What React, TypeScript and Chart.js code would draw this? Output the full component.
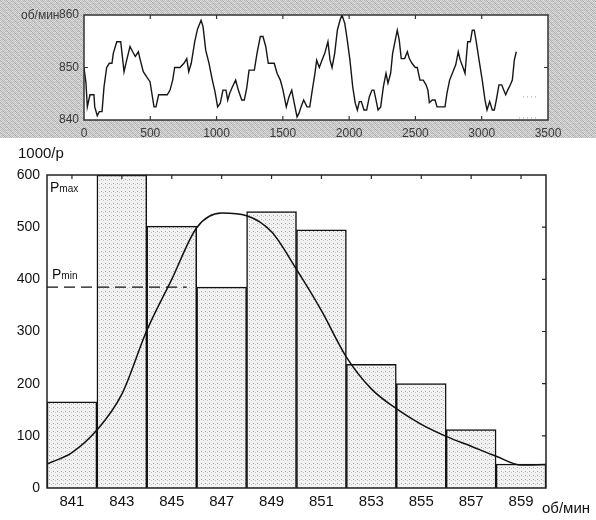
import React, { useEffect, useRef } from "react";
import { Chart, registerables } from "chart.js";
Chart.register(...registerables);

// ---------- top chart: rotation speed over time ----------
const timeS = [0,15,25,45,75,81,100,115,136,151,171,191,211,221,247,277,302,322,347,367,387,410,422,447,473,498,528,543,563,628,649,669,684,724,754,775,790,809,835,856,883,898,918,943,968,988,1008,1028,1048,1071,1084,1099,1119,1144,1164,1190,1209,1227,1245,1285,1305,1330,1350,1371,1390,1435,1456,1481,1501,1526,1546,1567,1586,1607,1622,1637,1657,1682,1703,1722,1742,1755,1775,1795,1816,1840,1856,1871,1891,1911,1931,1946,1967,1986,2006,2027,2046,2062,2077,2092,2112,2132,2152,2172,2187,2203,2218,2238,2258,2278,2293,2313,2328,2348,2363,2378,2393,2419,2439,2454,2474,2499,2514,2534,2559,2580,2594,2605,2627,2648,2663,2723,2738,2758,2783,2804,2823,2838,2859,2874,2894,2914,2929,2944,2959,2980,3004,3025,3040,3060,3080,3095,3110,3130,3151,3166,3181,3196,3216,3231,3246,3261];
const rpm = [850,847,842.5,844.8,844.8,842.5,840.8,841.6,841.6,846.3,850,850.8,850.8,852.7,854.9,854.9,849.2,851.4,854,853,852.1,853,851.7,849.2,848.2,847.3,842.5,842.5,844.8,844.8,845.7,847.6,850,850,850.8,851.7,849.2,850.8,854.9,857.3,859,857.8,853.3,850.8,847.6,845.4,842.5,843.2,845.7,845.7,843.8,845.1,846.3,847.6,845.7,843.8,843.8,846,849.5,849.5,852.7,855.9,855.9,854,850.8,850.8,848.9,847.6,845.7,842.5,844.4,845.7,843.2,840.6,841.3,842.5,843.8,842.5,842.5,845.7,848.9,851.4,850,851.4,852.7,854.9,851.4,850,852.7,857.1,859,860,858.4,855.2,851.4,846.3,843.2,841.9,843.5,843.5,841.9,841.9,844.4,845.7,845.7,843.8,841.9,842.5,846.3,848.9,847,848.9,852.7,855.2,857.1,855.2,851.7,851.7,853,851.7,850.8,850,850,847.6,847.6,846.7,845.7,843.3,843.8,843.8,842.5,842.5,845.1,847.6,849.2,850.5,853,851.4,850,848.9,854.9,854.9,857.1,857.1,854.9,851.4,847.6,843.8,841.9,843.5,841.9,841.9,843.8,846.7,846.7,845.7,844.8,845.7,846.7,847.6,851.4,853];
const topXTicks = [0, 500, 1000, 1500, 2000, 2500, 3000, 3500];
const topYTicks = [840, 850, 860];
const markUpperT = [3311, 3417];
const markUpperV = 844.4;
const markLowerT = [3281, 3417];
const markLowerV = 840.4;

// ---------- bottom chart: histogram ----------
const binCenters = [841, 843, 845, 847, 849, 851, 853, 855, 857, 859];
const freq = [165, 600, 502, 385, 530, 495, 237, 200, 112, 46];
const curveX = [840,841,842,843,844,845,846,847,848,849,850,851,852,853,854,855,856,857,858,859,860];
const curveY = [46,68,111,180,302,400,499,527,522,491,419,340,251,190,152,122,99,80,61,44,45];
const pMin = 385;
const pMinRange = [840, 845.6];
const botYTicks = [0, 100, 200, 300, 400, 500, 600];

const FONT = "'Liberation Sans', Arial, sans-serif";

function makePattern(vals: number[][]) {
  const c = document.createElement("canvas");
  const h = vals.length, w = vals[0].length;
  c.width = w; c.height = h;
  const ctx = c.getContext("2d")!;
  const img = ctx.createImageData(w, h);
  for (let y = 0; y < h; y++) for (let x = 0; x < w; x++) {
    const i = (y * w + x) * 4; const v = vals[y][x];
    img.data[i] = v; img.data[i + 1] = v; img.data[i + 2] = v; img.data[i + 3] = 255;
  }
  ctx.putImageData(img, 0, 0);
  return ctx.createPattern(c, "repeat")!;
}

const grayTile = [
  [0xb0, 0xda, 0xc2, 0xe2, 0xb8, 0xd4],
  [0xd2, 0xa8, 0xde, 0xbc, 0xe0, 0xb4],
  [0xc6, 0xe4, 0xae, 0xd6, 0xc0, 0xdc],
  [0xde, 0xba, 0xce, 0xa6, 0xd8, 0xbe],
  [0xb6, 0xd6, 0xc0, 0xe2, 0xac, 0xd0],
  [0xe0, 0xc2, 0xd8, 0xb8, 0xdc, 0xb2],
];
const barTile = [
  [0xf2, 0xf2, 0xf2, 0xf2],
  [0xf2, 0xa8, 0xf2, 0xf2],
  [0xf2, 0xf2, 0xf2, 0xc8],
  [0xf2, 0xf2, 0xf2, 0xf2],
];

function framePlugin(o: any) {
  return {
    id: "frame",
    afterDraw(chart: any) {
      const { ctx, chartArea: a, scales } = chart;
      ctx.save();
      ctx.strokeStyle = o.color;
      ctx.lineWidth = o.lw;
      ctx.strokeRect(a.left, a.top, a.right - a.left, a.bottom - a.top);
      ctx.lineWidth = 1.2;
      const L = o.tickLen;
      ctx.beginPath();
      for (const v of o.xTicks) {
        const px = scales.x.getPixelForValue(v);
        if (o.top) { ctx.moveTo(px, a.top); ctx.lineTo(px, a.top + L); }
        if (o.bottom) { ctx.moveTo(px, a.bottom); ctx.lineTo(px, a.bottom - L); }
      }
      for (const v of o.yTicks) {
        const py = scales.y.getPixelForValue(v);
        if (o.left) { ctx.moveTo(a.left, py); ctx.lineTo(a.left + L, py); }
        if (o.right) { ctx.moveTo(a.right, py); ctx.lineTo(a.right - L, py); }
      }
      ctx.stroke();
      if (o.extra) o.extra(chart);
      ctx.restore();
    },
  };
}

function TopChart() {
  const ref = useRef<HTMLCanvasElement>(null);
  useEffect(() => {
    const bg = makePattern(grayTile);
    const bgPlugin = {
      id: "bg",
      beforeDraw(chart: any) {
        const { ctx, chartArea: a, width, height } = chart;
        ctx.save();
        ctx.fillStyle = bg;
        ctx.fillRect(0, 0, width, height);
        ctx.fillStyle = "#ffffff";
        ctx.fillRect(a.left, a.top, a.right - a.left, a.bottom - a.top);
        ctx.restore();
      },
    };
    const chart = new Chart(ref.current!, {
      type: "line",
      data: {
        datasets: [
          {
            data: timeS.map((t, i) => ({ x: t, y: rpm[i] })),
            borderColor: "#161616",
            borderWidth: 1.4,
            pointRadius: 0,
            tension: 0,
          },
          {
            data: markUpperT.map((t) => ({ x: t, y: markUpperV })),
            borderColor: "#9a9a9a",
            borderWidth: 1,
            borderDash: [1, 3],
            pointRadius: 0,
          },
          {
            data: markLowerT.map((t) => ({ x: t, y: markLowerV })),
            borderColor: "#9a9a9a",
            borderWidth: 1,
            borderDash: [1, 3],
            pointRadius: 0,
          },
        ],
      },
      options: {
        responsive: false,
        animation: false,
        devicePixelRatio: 1,
        layout: { padding: { left: 0, right: 48, top: 15, bottom: 0 } },
        plugins: { legend: { display: false }, tooltip: { enabled: false } },
        scales: {
          x: {
            type: "linear",
            min: 0,
            max: 3500,
            afterBuildTicks: (s: any) => { s.ticks = topXTicks.map((v) => ({ value: v })); },
            afterFit: (s: any) => { s.height = 18; },
            grid: { display: false, drawTicks: false },
            border: { display: false },
            ticks: { padding: 6, color: "#3a3a3a", font: { family: FONT, size: 12 }, maxRotation: 0, autoSkip: false, callback: (v: any) => String(v) },
          },
          y: {
            type: "linear",
            min: 840,
            max: 860,
            afterBuildTicks: (s: any) => { s.ticks = topYTicks.map((v) => ({ value: v })); },
            afterFit: (s: any) => { s.width = 84; },
            grid: { display: false, drawTicks: false },
            border: { display: false },
            ticks: { padding: 5, color: "#3a3a3a", font: { family: FONT, size: 12 }, callback: (v: any) => String(v) },
          },
        },
      },
      plugins: [
        bgPlugin,
        framePlugin({
          color: "#333", lw: 1.5, tickLen: 4, xTicks: topXTicks.slice(1, -1), yTicks: [850],
          top: true, bottom: true, left: true, right: true,
          extra: (chart: any) => {
            const { ctx, scales } = chart;
            ctx.fillStyle = "#3a3a3a";
            ctx.font = `12px ${FONT}`;
            ctx.textAlign = "left";
            ctx.textBaseline = "middle";
            ctx.fillText("об/мин", 21, scales.y.getPixelForValue(860) + 1);
          },
        }),
      ],
    } as any);
    return () => chart.destroy();
  }, []);
  return <canvas ref={ref} width={596} height={138} style={{ display: "block", width: 596, height: 138 }} />;
}

function BottomChart() {
  const ref = useRef<HTMLCanvasElement>(null);
  useEffect(() => {
    const barPat = makePattern(barTile);
    const chart = new Chart(ref.current!, {
      type: "bar",
      data: {
        datasets: [
          {
            type: "line",
            data: curveX.map((x, i) => ({ x, y: curveY[i] })),
            borderColor: "#111",
            borderWidth: 1.5,
            pointRadius: 0,
            cubicInterpolationMode: "monotone",
            order: 0,
          },
          {
            type: "line",
            data: pMinRange.map((x) => ({ x, y: pMin })),
            borderColor: "#111",
            borderWidth: 1.2,
            borderDash: [11, 6],
            pointRadius: 0,
            order: 1,
          },
          {
            type: "bar",
            data: binCenters.map((x, i) => ({ x, y: freq[i] })),
            backgroundColor: barPat,
            borderColor: "#111",
            borderWidth: 1.5,
            barPercentage: 1,
            categoryPercentage: 1,
            order: 2,
          },
        ],
      },
      options: {
        responsive: false,
        animation: false,
        devicePixelRatio: 1,
        layout: { padding: { left: 0, right: 50, top: 37, bottom: 0 } },
        plugins: { legend: { display: false }, tooltip: { enabled: false } },
        scales: {
          x: {
            type: "linear",
            min: 840,
            max: 860,
            offset: false,
            afterBuildTicks: (s: any) => { s.ticks = binCenters.map((v) => ({ value: v })); },
            afterFit: (s: any) => { s.height = 32; },
            grid: { display: false, drawTicks: false },
            border: { display: false },
            ticks: { padding: 5, color: "#111", font: { family: FONT, size: 15 }, maxRotation: 0, autoSkip: false, callback: (v: any) => String(v) },
          },
          y: {
            type: "linear",
            min: 0,
            max: 600,
            afterBuildTicks: (s: any) => { s.ticks = botYTicks.map((v) => ({ value: v })); },
            afterFit: (s: any) => { s.width = 47; },
            grid: { display: false, drawTicks: false },
            border: { display: false },
            ticks: { padding: 7, color: "#111", font: { family: FONT, size: 14 }, callback: (v: any) => String(v) },
          },
        },
      },
      plugins: [
        framePlugin({
          color: "#222", lw: 1.5, tickLen: 4, xTicks: binCenters, yTicks: botYTicks.slice(1, -1),
          top: true, bottom: false, left: false, right: true,
          extra: (chart: any) => {
            const { ctx, chartArea: a, scales } = chart;
            ctx.fillStyle = "#111";
            ctx.textBaseline = "alphabetic";
            ctx.textAlign = "left";
            ctx.font = `15px ${FONT}`;
            ctx.fillText("1000/p", 18, 20);
            ctx.textBaseline = "middle";
            ctx.fillText("об/мин", 542, a.bottom + 21);
            ctx.textBaseline = "alphabetic";
            const px = a.left + 3;
            const yMax = a.top + 17;
            ctx.font = `14px ${FONT}`;
            ctx.fillText("P", px, yMax);
            const wP = ctx.measureText("P").width;
            ctx.font = `10px ${FONT}`;
            ctx.fillText("max", px + wP, yMax);
            const yMin = scales.y.getPixelForValue(pMin) - 8;
            ctx.font = `14px ${FONT}`;
            ctx.fillText("P", px + 2, yMin);
            ctx.font = `10px ${FONT}`;
            ctx.fillText("min", px + 2 + wP, yMin);
          },
        }),
      ],
    } as any);
    return () => chart.destroy();
  }, []);
  return <canvas ref={ref} width={596} height={382} style={{ display: "block", width: 596, height: 382 }} />;
}

export default function App() {
  return (
    <div style={{ position: "absolute", left: 0, top: 0, width: 596, height: 520, background: "#fff" }}>
      <TopChart />
      <BottomChart />
    </div>
  );
}
